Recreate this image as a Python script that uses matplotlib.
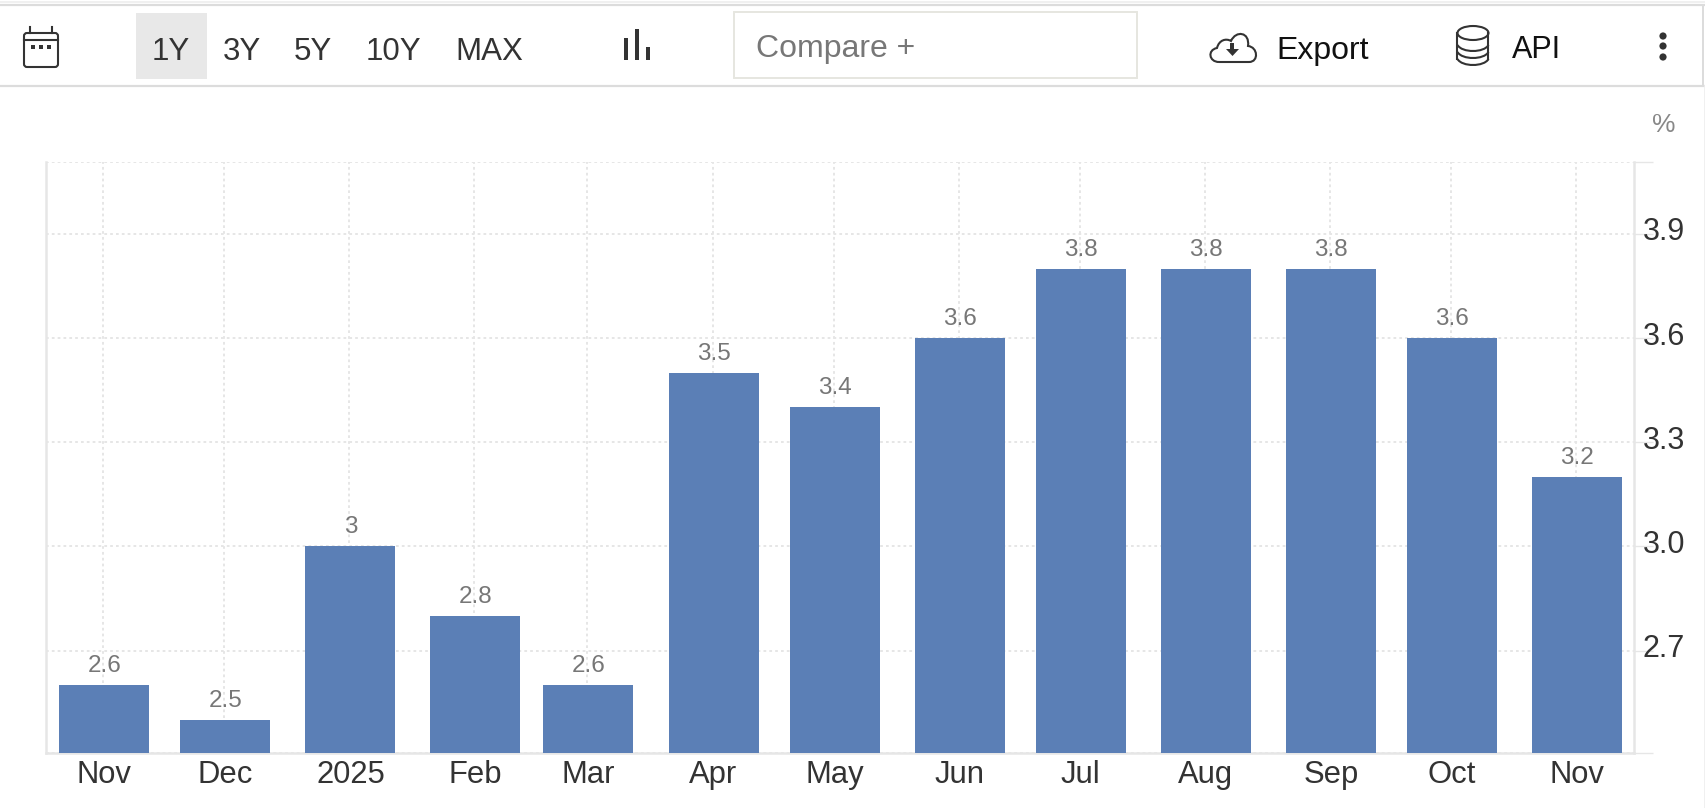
import matplotlib
matplotlib.use("Agg")
import matplotlib.pyplot as plt
import matplotlib.dates as mdates
from matplotlib.patches import Rectangle, Ellipse, Circle, PathPatch, FancyBboxPatch
from matplotlib.path import Path
from matplotlib.transforms import ScaledTranslation
from datetime import datetime

plt.rcParams['font.family'] = ['Liberation Sans', 'DejaVu Sans']

dates = ["2024-11-01", "2024-12-01", "2025-01-01", "2025-02-01", "2025-03-01", "2025-04-01", "2025-05-01",
         "2025-06-01", "2025-07-01", "2025-08-01", "2025-09-01", "2025-10-01", "2025-11-01"]
x_labels = ["Nov", "Dec", "2025", "Feb", "Mar", "Apr", "May", "Jun", "Jul", "Aug", "Sep", "Oct", "Nov"]
values = [2.6, 2.5, 3.0, 2.8, 2.6, 3.5, 3.4, 3.6, 3.8, 3.8, 3.8, 3.6, 3.2]
value_labels = ["2.6", "2.5", "3", "2.8", "2.6", "3.5", "3.4", "3.6", "3.8", "3.8", "3.8", "3.6", "3.2"]
y_ticks = [2.7, 3.0, 3.3, 3.6, 3.9]
y_labels = ["2.7", "3.0", "3.3", "3.6", "3.9"]
ranges = ["1Y", "3Y", "5Y", "10Y", "MAX"]

W, H = 1706, 808
BAR = "#5b7fb6"
LINE = "#e6e6e6"
GRID = "#e6e6e6"
INK = "#333333"

fig = plt.figure(figsize=(W / 100, H / 100), dpi=100, facecolor="white")
L, R, T, B = 46, 1634, 162, 753
ax = fig.add_axes([L / W, 1 - B / H, (R - L) / W, (B - T) / H])

xs = [mdates.date2num(datetime.strptime(d, "%Y-%m-%d")) for d in dates]
bar_x = [v + 0.25 for v in xs]
ax.bar(bar_x, values, width=22.3, color=BAR, zorder=3)
ax.set_xlim(xs[0] - 14.2, xs[-1] + 14.4)
ymin, ymax = 2.405, 4.107
ax.set_ylim(ymin, ymax)

ax.yaxis.tick_right()
ax.set_xticks(xs)
ax.set_xticklabels(x_labels, fontsize=22.3, color=INK)
ax.set_yticks([ymin] + y_ticks + [ymax])
ax.set_yticklabels([""] + y_labels + [""], fontsize=22, color=INK)
ax.tick_params(axis="x", length=0, pad=5)
ax.tick_params(axis="y", length=13.7, width=1.0, color=LINE, pad=-7.6)
ax.grid(True, color=GRID, lw=1.4, linestyle=(0, (1.4, 1.6)), zorder=0)
ax.set_axisbelow(True)
for s in ("left", "right", "bottom"):
    ax.spines[s].set_color(LINE)
    ax.spines[s].set_linewidth(1.8)
ax.spines["top"].set_visible(False)
shift = ScaledTranslation(0, 5 / 100, fig.dpi_scale_trans)
for lab in ax.get_yticklabels():
    lab.set_transform(lab.get_transform() + shift)
shift_x = ScaledTranslation(1 / 100, 0, fig.dpi_scale_trans)
for lab in ax.get_xticklabels():
    lab.set_transform(lab.get_transform() + shift_x)

for xv, yv, t in zip(bar_x, values, value_labels):
    ax.annotate(t, (xv, yv), xytext=(0, 9.4), textcoords="offset points", ha="center", va="baseline",
                fontsize=17.5, color="#777777", zorder=4)

# Toolbar and page furniture, in pixel coordinates
ov = fig.add_axes([0, 0, 1, 1], zorder=5)
ov.set_xlim(0, W)
ov.set_ylim(H, 0)
ov.axis("off")
ov.patch.set_alpha(0)

ov.plot([0, 1704], [5, 5], color="#dcdcdc", lw=1.6)
ov.plot([0, 1704], [1.5, 1.5], color="#f0f0f0", lw=1.4)
ov.plot([0, 1704], [86, 86], color="#dcdcdc", lw=1.6)
ov.plot([1703.5, 1703.5], [5, 86], color="#dcdcdc", lw=1.4)
ov.plot([1705.5, 1705.5], [86, 808], color="#eeeeee", lw=1.2)

ov.add_patch(Rectangle((136, 13), 71, 66, fc="#e8e8e8", ec="none"))
for t, cx in zip(ranges, [171, 241.5, 312.5, 393, 489]):
    ov.text(cx, 48, t, ha="center", va="center_baseline", fontsize=22.5, color=INK)

# calendar icon
ic = dict(fc="none", ec=INK, lw=1.5)
ov.add_patch(FancyBboxPatch((24, 33), 34, 34, boxstyle="round,pad=0,rounding_size=3", **ic))
ov.plot([24, 58], [40, 40], color=INK, lw=1.5)
ov.plot([30, 30], [27, 33], color=INK, lw=1.5)
ov.plot([52, 52], [27, 33], color=INK, lw=1.5)
for cx in (33, 41, 49):
    ov.add_patch(Rectangle((cx - 2, 45), 4, 4, fc=INK, ec="none"))

# bars icon
for x0, y0 in [(624, 38), (635, 29), (646, 47)]:
    ov.add_patch(Rectangle((x0, y0), 4, 60 - y0, fc=INK, ec="none"))

# compare box
ov.add_patch(Rectangle((734, 12), 403, 66, fc="white", ec="#e6e6e0", lw=1.4))
ov.text(756, 46, "Compare +", ha="left", va="center_baseline", fontsize=23, color="#777777")

# cloud icon
cv = [(1219, 62), (1209, 62), (1207, 50), (1217, 48), (1219, 40), (1226, 38), (1231, 41),
      (1236, 30), (1250, 32), (1248, 46), (1258, 47), (1259, 62), (1249, 62), (1219, 62)]
cc = [Path.MOVETO, Path.CURVE4, Path.CURVE4, Path.CURVE4, Path.CURVE4, Path.CURVE4, Path.CURVE4,
      Path.CURVE4, Path.CURVE4, Path.CURVE4, Path.CURVE4, Path.CURVE4, Path.CURVE4, Path.LINETO]
ov.add_patch(PathPatch(Path(cv, cc), fc="white", ec=INK, lw=1.5))
ov.add_patch(Rectangle((1230.5, 43), 4, 6, fc=INK, ec="none"))
ov.fill([1226, 1239, 1232.5], [49, 49, 56], color=INK, lw=0)
ov.text(1276, 47, "Export", ha="left", va="center_baseline", fontsize=23, color="#111111")

# database icon
ov.add_patch(Ellipse((1473, 33), 31, 14, fc="none", ec=INK, lw=1.5))
for s0 in (45, 52, 59):
    ov.add_patch(PathPatch(Path([(1457.5, s0), (1462, s0 + 8), (1484, s0 + 8), (1488.5, s0)],
                                [Path.MOVETO, Path.CURVE4, Path.CURVE4, Path.CURVE4]),
                           fc="none", ec=INK, lw=1.5))
ov.plot([1457.5, 1457.5], [33, 59], color=INK, lw=1.5)
ov.plot([1488.5, 1488.5], [33, 59], color=INK, lw=1.5)
ov.text(1512, 47, "API", ha="left", va="center_baseline", fontsize=22, color="#111111")

for cy in (36, 46, 57):
    ov.add_patch(Circle((1663, cy), 3.6, fc=INK, ec="none"))

ov.text(1664, 125, "%", ha="center", va="center", fontsize=19, color="#888888")

fig.savefig("out.png", dpi=100)
